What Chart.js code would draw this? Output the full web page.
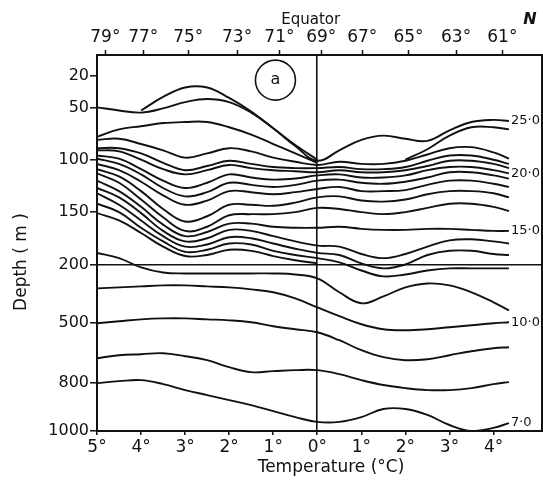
<!DOCTYPE html>
<html><head><meta charset="utf-8">
<script src="https://cdn.jsdelivr.net/npm/chart.js@4/dist/chart.umd.min.js"></script>
<style>html,body{margin:0;padding:0;background:#fff}#wrap{width:543px;height:481px;position:relative}</style>
</head><body><div id="wrap"><canvas id="c"></canvas></div>
<script>
// ---- data (latitude in degrees, negative = south; depth in metres) ----
const latitudes = [-5,-4.5,-4,-3.5,-3,-2.5,-2,-1.5,-1,-0.5,0,0.5,1,1.5,2,2.5,3,3.5,4,4.35];
const bottomTickValues = [-5,-4,-3,-2,-1,0,1,2,3,4];
const bottomTickLabels = ['5°','4°','3°','2°','1°','0°','1°','2°','3°','4°'];
const topTickLats = [-4.81,-3.95,-2.93,-1.82,-0.86,0.09,1.02,2.07,3.15,4.2];
const topTickLabels = ['79°','77°','75°','73°','71°','69°','67°','65°','63°','61°'];
const depthTicks = [20,50,100,150,200,500,800,1000];

const _ = null;
const iso26  = [_,_,53,40,31,31,41,54,70,86,100,_,_,_,_,_,_,_,_,_];
const iso25  = [50,53,55,51,45,42,45,55,70,87,101,91,81,77,80,82,72,64,62,63];
const iso24  = [_,_,_,_,_,_,_,_,_,_,_,_,_,_,100,90,77,69,69,71];
const iso24s = [78,71,68,65,64,64,69,76,85,94,103,_,_,_,_,_,_,_,_,_];
const iso23  = [81,80,85,91,98,94,89,92,98,102,105,102,104,104,101,95,89,88,93,99];
const iso22  = [89,89,94,103,110,106,101,104,107,108,108,107,109,109,107,101,96,96,100,104];
const iso21  = [91,92,100,109,114,110,105,108,110,111,112,110,112,112,110,106,101,101,104,108];
const iso20  = [96,99,109,120,127,122,114,117,119,118,115,114,117,117,115,110,107,107,110,113];
const iso19  = [99,104,114,127,135,131,122,124,126,124,120,119,122,123,121,117,112,112,115,118];
const iso18  = [104,110,121,134,143,139,130,131,133,131,128,126,130,130,129,124,120,120,123,126];
const iso17  = [109,116,130,147,159,154,143,143,144,141,136,135,139,140,138,133,130,130,132,136];
const iso16  = [113,122,138,155,168,164,153,152,152,150,146,147,150,152,150,146,142,142,145,149];
const iso15  = [120,130,145,162,173,169,161,161,164,165,165,164,166,167,167,166,166,167,168,168];
const iso14  = [127,136,151,168,178,175,167,168,173,178,182,183,190,194,190,183,177,176,178,180];
const iso13  = [132,143,158,173,183,181,174,175,180,185,189,191,199,220,200,191,187,187,190,191];
const iso12  = [142,150,165,178,188,186,180,181,187,191,194,198,231,261,251,231,220,220,220,220];
const iso12s = [151,158,170,183,192,191,186,187,192,196,199,_,_,_,_,_,_,_,_,_];
const iso11  = [189,194,215,241,246,246,246,246,246,251,271,342,398,363,317,297,307,342,393,434];
const iso10  = [322,317,312,307,307,312,317,327,342,373,419,464,505,530,535,530,520,510,500,495];
const iso9   = [500,490,480,475,475,480,485,495,515,530,545,585,635,670,685,680,660,640,625,620];
const iso8   = [675,660,655,650,665,685,720,745,740,735,735,755,785,808,821,829,829,821,804,795];
const iso7   = [800,790,785,804,829,850,871,892,917,942,962,962,942,908,908,933,975,1000,987,967];

const isotherms = [
  ['26', iso26, ''], ['25', iso25, '25·0'], ['24', iso24, ''], ['24s', iso24s, ''], ['23', iso23, ''],
  ['22', iso22, ''], ['21', iso21, ''], ['20', iso20, '20·0'], ['19', iso19, ''], ['18', iso18, ''],
  ['17', iso17, ''], ['16', iso16, ''], ['15', iso15, '15·0'], ['14', iso14, ''], ['13', iso13, ''],
  ['12', iso12, ''], ['12s', iso12s, ''], ['11', iso11, ''], ['10', iso10, '10·0'], ['9', iso9, ''],
  ['8', iso8, ''], ['7', iso7, '7·0']
];

// ---- broken depth scale (0-200 m stretched, 200-1000 m compressed) ----
const depthBreaks = [0, 200, 500, 800, 1000];
const depthFrac = [0, 0.557, 0.7135, 0.8727, 1];
function interp(v, xs, ys) {
  if (v <= xs[0]) return ys[0] + (v - xs[0]) * (ys[1] - ys[0]) / (xs[1] - xs[0]);
  for (let i = 1; i < xs.length; i++) {
    if (v <= xs[i]) return ys[i-1] + (v - xs[i-1]) * (ys[i] - ys[i-1]) / (xs[i] - xs[i-1]);
  }
  const n = xs.length - 1;
  return ys[n] + (v - xs[n]) * (ys[n] - ys[n-1]) / (xs[n] - xs[n-1]);
}
class DepthScale extends Chart.LinearScale {
  static id = 'depthbreak';
  static defaults = {};
  getPixelForValue(v) {
    return this.top + interp(v, depthBreaks, depthFrac) * (this.bottom - this.top);
  }
  getValueForPixel(p) {
    return interp((p - this.top) / (this.bottom - this.top), depthFrac, depthBreaks);
  }
}
Chart.register(DepthScale);

const FONT = "'DejaVu Sans', sans-serif";
const ink = '#111';

const datasets = isotherms.map(([name, arr, label]) => ({
  label: name,
  isoLabel: label,
  data: latitudes.map((x, i) => ({x, y: arr[i]})).filter(p => p.y !== null),
  borderColor: ink,
  borderWidth: 1.9,
  pointRadius: 0,
  tension: 0.4,
  fill: false,
  xAxisID: 'x',
  yAxisID: 'y'
}));

const decor = {
  id: 'decor',
  afterDatasetsDraw(chart) {
    const {ctx, chartArea: a, scales} = chart;
    ctx.save();
    ctx.strokeStyle = ink; ctx.lineWidth = 2;
    ctx.strokeRect(a.left, a.top, a.right - a.left, a.bottom - a.top);
    ctx.fillStyle = ink; ctx.textBaseline = 'middle'; ctx.textAlign = 'left';
    ctx.font = `13px ${FONT}`;
    chart.data.datasets.forEach((ds, i) => {
      if (!ds.isoLabel) return;
      const pts = chart.getDatasetMeta(i).data;
      const last = pts[pts.length - 1];
      ctx.fillText(ds.isoLabel, last.x + 2, last.y);
    });
    const cx = scales.x.getPixelForValue(-0.95), cy = scales.y.getPixelForValue(24);
    ctx.lineWidth = 1.6;
    ctx.beginPath(); ctx.arc(cx, cy, 20, 0, Math.PI * 2); ctx.stroke();
    ctx.textAlign = 'center'; ctx.font = `16px ${FONT}`;
    ctx.fillText('a', cx, cy);
    ctx.textBaseline = 'alphabetic';
    ctx.font = `15px ${FONT}`;
    ctx.fillText('Equator', scales.x.getPixelForValue(-0.15), 24);
    ctx.font = `italic bold 16px ${FONT}`;
    ctx.fillText('N', 530, 24);
    ctx.font = `17px ${FONT}`;
    ctx.fillText('Temperature (°C)', 331, 472);
    ctx.translate(26, 262); ctx.rotate(-Math.PI / 2);
    ctx.fillText('Depth ( m )', 0, 0);
    ctx.restore();
  }
};

new Chart(document.getElementById('c'), {
  type: 'line',
  data: { datasets },
  options: {
    responsive: true, maintainAspectRatio: false, animation: false,
    layout: { padding: { left: 0, right: 1, top: 0, bottom: 0 } },
    plugins: { legend: { display: false }, tooltip: { enabled: false } },
    scales: {
      x: {
        type: 'linear', position: 'bottom', min: -5, max: 5.1,
        afterBuildTicks: s => { s.ticks = bottomTickValues.map(v => ({value: v})); },
        afterFit: s => { s.height = 50; },
        ticks: { autoSkip: false, maxRotation: 0, padding: 2, color: ink,
                 font: { family: FONT, size: 17 }, callback: (v, i) => bottomTickLabels[i] },
        grid: { drawOnChartArea: true, tickLength: 4, tickColor: ink, tickWidth: 1.5,
                color: c => (c.tick && c.tick.value === 0) ? ink : 'rgba(0,0,0,0)', lineWidth: 1.6 },
        border: { display: true, color: ink, width: 2 }
      },
      xTop: {
        type: 'linear', position: 'top', min: -5, max: 5.1,
        afterBuildTicks: s => { s.ticks = topTickLats.map(v => ({value: v})); },
        afterFit: s => { s.height = 55; },
        ticks: { autoSkip: false, maxRotation: 0, padding: 2, color: ink,
                 font: { family: FONT, size: 17 }, callback: (v, i) => topTickLabels[i] },
        grid: { drawOnChartArea: false, tickLength: 5, tickColor: ink, tickWidth: 1.5 },
        border: { display: true, color: ink, width: 2 }
      },
      y: {
        type: 'depthbreak', position: 'left', min: 0, max: 1000,
        afterBuildTicks: s => { s.ticks = depthTicks.map(v => ({value: v})); },
        afterFit: s => { s.width = 97; },
        ticks: { autoSkip: false, padding: 1, color: ink,
                 font: { family: FONT, size: 16 }, callback: v => String(v) },
        grid: { drawOnChartArea: true, tickLength: 7, tickColor: ink, tickWidth: 1.5,
                color: c => (c.tick && c.tick.value === 200) ? ink : 'rgba(0,0,0,0)', lineWidth: 1.6 },
        border: { display: true, color: ink, width: 2 }
      }
    }
  },
  plugins: [decor]
});
</script></body></html>
